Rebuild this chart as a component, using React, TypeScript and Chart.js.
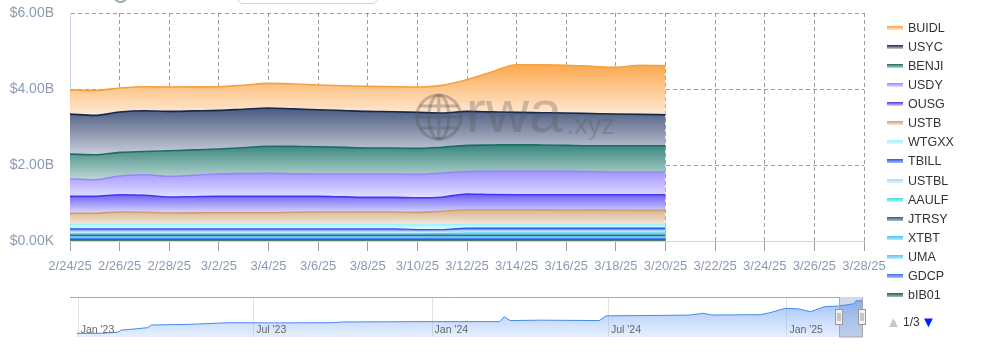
import React, { useEffect, useRef } from 'react';
import { Chart, registerables } from 'chart.js';
Chart.register(...registerables);

const FONT = '"Liberation Sans", Arial, Helvetica, sans-serif';

// ---- categories (daily) ----
const dates = ['2/24/25','2/25/25','2/26/25','2/27/25','2/28/25','3/1/25','3/2/25','3/3/25','3/4/25','3/5/25','3/6/25','3/7/25','3/8/25','3/9/25','3/10/25','3/11/25','3/12/25','3/13/25','3/14/25','3/15/25','3/16/25','3/17/25','3/18/25','3/19/25','3/20/25'];
const xTickLabels = ['2/24/25','2/26/25','2/28/25','3/2/25','3/4/25','3/6/25','3/8/25','3/10/25','3/12/25','3/14/25','3/16/25','3/18/25','3/20/25','3/22/25','3/24/25','3/26/25','3/28/25'];
const yTickLabels = ['$0.00K', '$2.00B', '$4.00B', '$6.00B'];

// ---- series values (USD billions) ----
const BUIDL = [0.639,0.658,0.631,0.632,0.642,0.631,0.624,0.632,0.647,0.656,0.650,0.653,0.657,0.658,0.666,0.727,0.834,1.050,1.255,1.263,1.258,1.245,1.226,1.294,1.289];
const USYC = [1.053,1.034,1.063,1.074,1.035,1.027,1.016,1.013,1.005,0.987,0.973,0.971,0.964,0.956,0.948,0.900,0.895,0.871,0.850,0.850,0.852,0.847,0.834,0.824,0.816];
const BENJI = [0.653,0.658,0.621,0.610,0.676,0.665,0.658,0.679,0.711,0.718,0.719,0.700,0.684,0.684,0.684,0.679,0.687,0.694,0.702,0.694,0.684,0.684,0.692,0.692,0.692];
const USDY = [0.458,0.439,0.493,0.540,0.542,0.566,0.589,0.602,0.610,0.597,0.589,0.602,0.616,0.616,0.616,0.636,0.592,0.608,0.614,0.614,0.614,0.606,0.598,0.598,0.598];
const OUSG = [0.448,0.442,0.455,0.447,0.421,0.427,0.429,0.429,0.429,0.416,0.411,0.398,0.384,0.384,0.384,0.369,0.413,0.400,0.394,0.400,0.402,0.405,0.407,0.413,0.413];
const USTB = [0.286,0.292,0.323,0.318,0.297,0.299,0.305,0.305,0.305,0.318,0.323,0.323,0.323,0.323,0.328,0.354,0.384,0.384,0.384,0.378,0.376,0.373,0.371,0.365,0.365];
const WTGXX = [0.120,0.120,0.120,0.120,0.120,0.120,0.120,0.120,0.120,0.120,0.120,0.120,0.120,0.120,0.125,0.130,0.100,0.100,0.100,0.100,0.100,0.100,0.100,0.100,0.100];
const TBILL = [0.070,0.070,0.070,0.070,0.070,0.070,0.070,0.070,0.070,0.070,0.070,0.070,0.070,0.070,0.050,0.045,0.070,0.070,0.070,0.070,0.070,0.070,0.070,0.070,0.070];
const USTBL = [0.060,0.060,0.060,0.060,0.060,0.060,0.060,0.060,0.060,0.060,0.060,0.060,0.060,0.060,0.060,0.060,0.060,0.060,0.060,0.060,0.060,0.060,0.060,0.060,0.060];
const AAULF = [0.035,0.035,0.035,0.035,0.035,0.035,0.035,0.035,0.035,0.035,0.035,0.035,0.035,0.035,0.035,0.040,0.055,0.055,0.055,0.055,0.055,0.055,0.055,0.055,0.055];
const JTRSY = [0.045,0.045,0.045,0.045,0.045,0.045,0.045,0.045,0.045,0.045,0.045,0.045,0.045,0.045,0.045,0.045,0.045,0.045,0.045,0.045,0.045,0.045,0.045,0.045,0.045];
const XTBT = [0.030,0.030,0.030,0.030,0.030,0.030,0.030,0.030,0.030,0.030,0.030,0.030,0.030,0.030,0.030,0.030,0.030,0.030,0.030,0.030,0.030,0.030,0.030,0.030,0.030];
const UMA = [0.025,0.025,0.025,0.025,0.025,0.025,0.025,0.025,0.025,0.025,0.025,0.025,0.025,0.025,0.025,0.025,0.025,0.025,0.025,0.025,0.025,0.025,0.025,0.025,0.025];
const GDCP = [0.025,0.025,0.025,0.025,0.025,0.025,0.025,0.025,0.025,0.025,0.025,0.025,0.025,0.025,0.025,0.025,0.025,0.025,0.025,0.025,0.025,0.025,0.025,0.025,0.025];
const bIB01 = [0.030,0.030,0.030,0.030,0.030,0.030,0.030,0.030,0.030,0.030,0.030,0.030,0.030,0.030,0.030,0.030,0.030,0.030,0.030,0.030,0.030,0.030,0.030,0.030,0.030];

// ---- navigator (days since 1 Jan 2023, total USD billions) ----
const navDays = [-1,23,41,45,52,72,76,116,157,208,262,275,353,435,440,446,477,538,545,590,631,645,654,704,714,730,744,756,770,785,801,803,809];
const navValues = [0.47,0.47,0.60,0.89,0.95,1.19,1.53,1.62,1.83,1.80,1.83,1.92,1.96,1.96,2.59,2.10,2.15,2.10,2.70,2.75,2.80,3.03,2.81,2.85,3.10,3.67,3.58,3.23,3.87,3.96,4.25,4.64,4.61];
const navTickDays = [0, 181, 365, 547, 731];
const navTickLabels = ["Jan '23", "Jul '23", "Jan '24", "Jul '24", "Jan '25"];
const navRange = [785, 817];

// legend order (top of stack first)
const legendNames = ['BUIDL','USYC','BENJI','USDY','OUSG','USTB','WTGXX','TBILL','USTBL','AAULF','JTRSY','XTBT','UMA','GDCP','bIB01'];
const seriesValues: Record<string, number[]> = { BUIDL, USYC, BENJI, USDY, OUSG, USTB, WTGXX, TBILL, USTBL, AAULF, JTRSY, XTBT, UMA, GDCP, bIB01 };
const styles: Record<string, [string, string, string]> = {
  BUIDL: ['#f6a03c', '#fca94f', '#ffead6'],
  USYC: ['#13284f', '#4a5a7e', '#c9cedb'],
  BENJI: ['#1c6c65', '#37857c', '#bcd8d4'],
  USDY: ['#9585ff', '#a394ff', '#e5e1ff'],
  OUSG: ['#4536ef', '#6b5ffb', '#dcd9ff'],
  USTB: ['#cda06b', '#dab48a', '#f3e9de'],
  WTGXX: ['#9ef2ff', '#aef4ff', '#dcfbff'],
  TBILL: ['#2a55e8', '#4b78f0', '#a9c0f7'],
  USTBL: ['#a9dbff', '#b3ddff', '#e0f1ff'],
  AAULF: ['#35e0e5', '#4ce4e8', '#b5f4f6'],
  JTRSY: ['#3b5b85', '#4e6d95', '#a9b9cf'],
  XTBT: ['#4fc3f7', '#63c9f8', '#b9e6fc'],
  UMA: ['#5ec4f2', '#70cbf4', '#c0e8fa'],
  GDCP: ['#3c6ff2', '#5283f4', '#b1c6fa'],
  bIB01: ['#2c5c52', '#3f6d63', '#a3bdb7'],
};

const AXIS_TEXT = '#8a9ab4';

const watermarkPlugin = {
  id: 'watermark',
  afterDatasetsDraw(chart: any) {
    const { ctx, chartArea: a } = chart;
    const w = a.right - a.left;
    const cx = a.left + w * 0.4645;
    const cy = a.top + 104;
    const r = 22;
    ctx.save();
    ctx.strokeStyle = 'rgba(85,85,85,0.33)';
    ctx.lineWidth = 3.2;
    ctx.beginPath(); ctx.arc(cx, cy, r, 0, Math.PI * 2); ctx.stroke();
    ctx.beginPath(); ctx.ellipse(cx, cy, r * 0.45, r, 0, 0, Math.PI * 2); ctx.stroke();
    ctx.beginPath();
    ctx.moveTo(cx, cy - r); ctx.lineTo(cx, cy + r);
    ctx.moveTo(cx - r, cy); ctx.lineTo(cx + r, cy);
    const hw = Math.sqrt(1 - 0.25) * r;
    ctx.moveTo(cx - hw, cy - r * 0.5); ctx.lineTo(cx + hw, cy - r * 0.5);
    ctx.moveTo(cx - hw, cy + r * 0.5); ctx.lineTo(cx + hw, cy + r * 0.5);
    ctx.stroke();
    ctx.fillStyle = 'rgba(85,85,85,0.3)';
    ctx.textBaseline = 'alphabetic';
    ctx.textAlign = 'left';
    ctx.font = `60px ${FONT}`;
    ctx.fillText('rwa', cx + 27, cy + 15);
    ctx.font = `27px ${FONT}`;
    ctx.fillText('.xyz', cx + 128, cy + 17);
    ctx.restore();
  },
};

const navPlugin = {
  id: 'navdeco',
  beforeDatasetsDraw(chart: any) {
    const { ctx, chartArea: a, scales } = chart;
    ctx.save();
    ctx.strokeStyle = '#e3e3e3';
    ctx.lineWidth = 1;
    navTickDays.forEach((d) => {
      const x = Math.round(scales.x.getPixelForValue(d)) + 0.5;
      ctx.beginPath(); ctx.moveTo(x, a.top); ctx.lineTo(x, a.bottom); ctx.stroke();
    });
    ctx.restore();
  },
  afterDatasetsDraw(chart: any) {
    const { ctx, chartArea: a, scales } = chart;
    ctx.save();
    ctx.fillStyle = '#666';
    ctx.font = `10.5px ${FONT}`;
    ctx.textBaseline = 'middle';
    navTickDays.forEach((d, i) => {
      const x = scales.x.getPixelForValue(d);
      ctx.fillText(navTickLabels[i], x + 3, a.bottom - 7);
    });
    const x1 = Math.round(scales.x.getPixelForValue(navRange[0]));
    const x2 = Math.round(Math.min(scales.x.getPixelForValue(navRange[1]), a.right));
    ctx.fillStyle = 'rgba(102,133,194,0.3)';
    ctx.fillRect(x1, a.top, x2 - x1, a.bottom - a.top);
    ctx.strokeStyle = '#a8a8a8';
    ctx.lineWidth = 1;
    ctx.beginPath();
    const t = a.top + 0.5;
    ctx.moveTo(a.left, t);
    ctx.lineTo(x1 + 0.5, t);
    ctx.lineTo(x1 + 0.5, a.bottom);
    ctx.lineTo(x2 + 0.5, a.bottom);
    ctx.lineTo(x2 + 0.5, t);
    ctx.lineTo(a.right + 1, t);
    ctx.stroke();
    const my = (a.top + a.bottom) / 2;
    [x1, x2].forEach((x) => {
      ctx.fillStyle = '#f2f2f2';
      ctx.strokeStyle = '#999';
      ctx.fillRect(x - 3.5, my - 7.5, 7, 15);
      ctx.strokeRect(x - 3.5, my - 7.5, 7, 15);
      ctx.beginPath();
      ctx.moveTo(x - 1, my - 4); ctx.lineTo(x - 1, my + 4);
      ctx.moveTo(x + 1, my - 4); ctx.lineTo(x + 1, my + 4);
      ctx.stroke();
    });
    ctx.restore();
  },
};

export default function App() {
  const mainRef = useRef<HTMLCanvasElement>(null);
  const navRef = useRef<HTMLCanvasElement>(null);

  useEffect(() => {
    const order = [...legendNames].reverse(); // bottom of stack first
    const lower: number[][] = [];
    let acc = dates.map(() => 0);
    order.forEach((n) => {
      lower.push(acc.slice());
      acc = acc.map((v, i) => v + seriesValues[n][i]);
    });
    const datasets = order.map((name, k) => {
      const vals = seriesValues[name];
      const lo = lower[k];
      const up = lo.map((v, i) => v + vals[i]);
      const maxUp = Math.max(...up);
      const minLo = Math.min(...lo);
      const [line, top, bottom] = styles[name];
      return {
        label: name,
        data: vals.map((v, i) => ({ x: i, y: v })),
        borderColor: line,
        borderWidth: k >= 9 ? 1.6 : 1.2,
        pointRadius: 0,
        cubicInterpolationMode: 'monotone',
        fill: k === 0 ? 'origin' : '-1',
        backgroundColor: (c: any) => {
          const ch = c.chart;
          if (!ch.chartArea || !ch.scales || !ch.scales.y) return top;
          const y0 = ch.scales.y.getPixelForValue(maxUp);
          const y1 = ch.scales.y.getPixelForValue(minLo);
          const g = ch.ctx.createLinearGradient(0, y0, 0, y1 + 0.01);
          g.addColorStop(0, top);
          g.addColorStop(1, bottom);
          return g;
        },
      };
    });

    const gridCol = 'rgba(125,125,125,0.75)';
    const main = new Chart(mainRef.current!, {
      type: 'line',
      data: { datasets: datasets as any },
      options: {
        animation: false,
        responsive: false,
        devicePixelRatio: 1,
        layout: { padding: { left: 0, right: 133, top: 13, bottom: 0 } },
        plugins: { legend: { display: false }, tooltip: { enabled: false } },
        scales: {
          x: {
            type: 'linear',
            min: 0,
            max: 32,
            z: 1,
            afterFit: (s: any) => { s.height = 44; },
            ticks: {
              stepSize: 2,
              autoSkip: false,
              maxRotation: 0,
              color: AXIS_TEXT,
              padding: 8,
              font: { size: 13, family: FONT },
              callback: (v: any) => xTickLabels[Math.round(v / 2)] ?? '',
            },
            grid: {
              color: (c: any) => (c.index === 0 ? 'rgba(0,0,0,0)' : gridCol),
              tickColor: '#a0a0a0',
              tickLength: 10,
              lineWidth: 1,
            },
            border: { display: true, color: '#ccd6eb', width: 1, dash: [4, 3] },
          },
          y: {
            stacked: true,
            min: 0,
            max: 6,
            z: 1,
            afterFit: (s: any) => { s.width = 70; },
            ticks: {
              stepSize: 2,
              color: AXIS_TEXT,
              padding: 0,
              font: { size: 14, family: FONT },
              callback: (v: any) => yTickLabels[Math.round(v / 2)] ?? '',
            },
            grid: {
              color: (c: any) => (c.tick && c.tick.value === 0 ? 'rgba(0,0,0,0)' : gridCol),
              drawTicks: true,
              tickLength: 16,
              tickColor: 'rgba(0,0,0,0)',
              lineWidth: 1,
            },
            border: { display: true, color: '#ccd6eb', width: 1, dash: [4, 3] },
          },
        },
      },
      plugins: [watermarkPlugin],
    });

    const nav = new Chart(navRef.current!, {
      type: 'line',
      data: {
        datasets: [
          {
            data: navDays.map((d, i) => ({ x: d, y: navValues[i] })),
            borderColor: '#4489f2',
            borderWidth: 1,
            pointRadius: 0,
            fill: 'origin',
            backgroundColor: (c: any) => {
              const ch = c.chart;
              if (!ch.chartArea) return 'rgba(120,165,245,0.5)';
              const g = ch.ctx.createLinearGradient(0, ch.chartArea.top, 0, ch.chartArea.bottom);
              g.addColorStop(0, 'rgba(95,150,242,0.65)');
              g.addColorStop(1, 'rgba(150,190,250,0.25)');
              return g;
            },
          },
        ],
      },
      options: {
        animation: false,
        responsive: false,
        devicePixelRatio: 1,
        layout: { padding: { left: 70, right: 135, top: 17, bottom: 19 } },
        plugins: { legend: { display: false }, tooltip: { enabled: false } },
        scales: {
          x: { type: 'linear', min: -8, max: 809, display: false },
          y: { min: 0, max: 5.11, display: false },
        },
      },
      plugins: [navPlugin],
    });

    return () => {
      main.destroy();
      nav.destroy();
    };
  }, []);

  return (
    <div style={{ position: 'fixed', left: 0, top: 0, width: 997, height: 356, background: '#fff', overflow: 'hidden', fontFamily: FONT }}>
      <div style={{ position: 'absolute', left: 113, top: -12, width: 11, height: 11, borderRadius: '50%', border: '2px solid #9aa' }} />
      <div style={{ position: 'absolute', left: 237, top: -24, width: 139, height: 26, borderRadius: 6, border: '1px solid #ccd6eb' }} />
      <canvas ref={mainRef} width={997} height={285} style={{ position: 'absolute', left: 0, top: 0, width: 997, height: 285 }} />
      <canvas ref={navRef} width={997} height={76} style={{ position: 'absolute', left: 0, top: 280, width: 997, height: 76 }} />
      {legendNames.map((n, i) => {
        const cy = 28 + i * 19.07;
        const [line, , bottom] = styles[n];
        return (
          <div key={n}>
            <div style={{ position: 'absolute', left: 887, top: cy - 2, width: 16, height: 4, background: `linear-gradient(to bottom, ${line}, ${bottom})` }} />
            <div style={{ position: 'absolute', left: 908, top: cy - 8, height: 16, lineHeight: '16px', fontSize: 12.5, color: '#333', whiteSpace: 'nowrap' }}>{n}</div>
          </div>
        );
      })}
      <div style={{ position: 'absolute', left: 886, top: 313, fontSize: 15, lineHeight: '18px', color: '#c8c8c8' }}>▲</div>
      <div style={{ position: 'absolute', left: 903, top: 314, fontSize: 12, lineHeight: '16px', color: '#333' }}>1/3</div>
      <div style={{ position: 'absolute', left: 921, top: 313, fontSize: 15, lineHeight: '18px', color: '#0022ff' }}>▼</div>
    </div>
  );
}
